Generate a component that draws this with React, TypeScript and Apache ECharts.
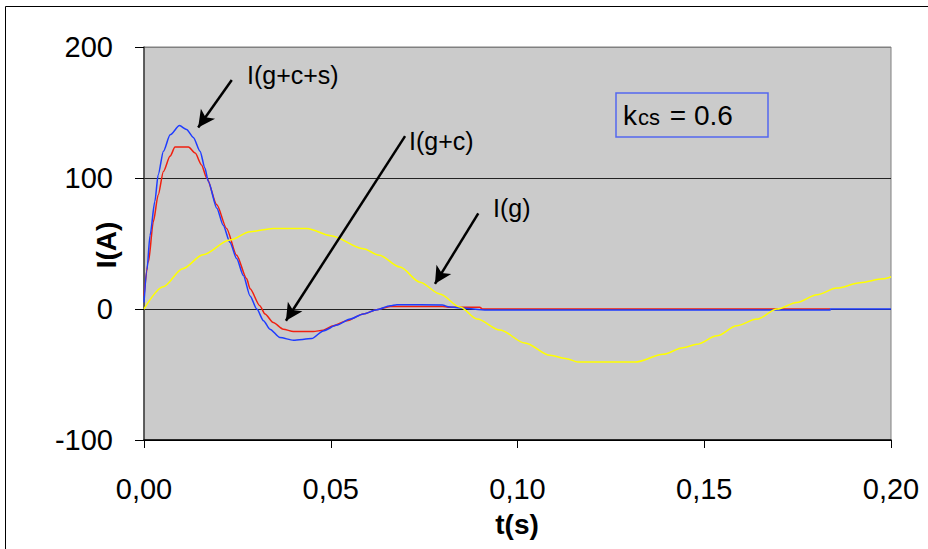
import React, { useEffect, useRef } from "react";
import * as echarts from "echarts";

// Time samples (s) and currents (A) for each case
const tGCS = [0, 0.0008, 0.0016, 0.0029, 0.0038, 0.0052, 0.007, 0.0095, 0.0114, 0.0132, 0.015, 0.0163, 0.0172, 0.0195, 0.0212, 0.023, 0.0248, 0.0266, 0.0284, 0.0302, 0.032, 0.0337, 0.0364, 0.04, 0.0449, 0.048, 0.0516, 0.0552, 0.0587, 0.0623, 0.0659, 0.0677, 0.08, 0.0814, 0.0846, 0.0918, 0.1837, 0.1838, 0.2];
const iGCS = [5, 30, 56, 82, 102.5, 120.5, 133, 140, 137, 131, 120.5, 107.7, 97.5, 77, 64, 51, 38.5, 25.6, 10, 0, -9, -15.4, -21.8, -23.8, -22.6, -16.7, -12.3, -7.7, -3.8, -0.5, 2.5, 3.3, 3, 1.8, 0.8, -0.8, -0.8, 0, 0];

const tGC = [0, 0.0012, 0.0025, 0.0038, 0.0052, 0.007, 0.0083, 0.0119, 0.0137, 0.0154, 0.0168, 0.0195, 0.0221, 0.0248, 0.0275, 0.0284, 0.031, 0.0324, 0.0346, 0.0373, 0.04, 0.0453, 0.048, 0.0507, 0.0543, 0.0587, 0.0623, 0.0659, 0.08, 0.0814, 0.0899, 0.0906, 0.1837];
const iGC = [10, 36, 66.7, 87, 105, 116.7, 123.6, 123.6, 119, 110, 100, 79.5, 61.5, 41, 23, 15.4, 2.5, -3.8, -10.3, -15.4, -17.2, -17.2, -16.2, -12.8, -9, -3.8, -0.5, 2, 2, 1.3, 1.3, 0, 0];

const tG = [0, 0.0051, 0.0104, 0.0158, 0.023, 0.0284, 0.0346, 0.0436, 0.05, 0.0587, 0.063, 0.0685, 0.0739, 0.0792, 0.0846, 0.0892, 0.0953, 0.102, 0.1087, 0.1132, 0.1162, 0.1315, 0.139, 0.1443, 0.148, 0.1534, 0.1587, 0.1641, 0.1695, 0.1748, 0.1802, 0.1855, 0.1917, 0.1979, 0.2];
const iG = [0, 17, 30.8, 41.5, 52.6, 59, 61.5, 61.5, 56, 46, 41, 32, 20.5, 11.5, 1.5, -7.7, -16, -26, -35.4, -38, -40.5, -40.5, -34.6, -29.5, -27, -20.5, -12.8, -7.7, 0, 5, 10.8, 16, 20, 23, 24.6];

// Axis ranges and ticks
const xTicks = { min: 0, max: 0.2, step: 0.05 };
const yTicks = { min: -100, max: 200, step: 100 };

// Annotation arrows: [tail t, tail I, head t, head I] and their captions
const arrowGCS = [0.0235, 174.8, 0.0145, 138.5];
const arrowGC = [0.0699, 132, 0.038, -9];
const arrowG = [0.0895, 73, 0.0779, 19.2];
const captions = ["I(g+c+s)", "I(g+c)", "I(g)"];

const FONT = 'Arial, "Liberation Sans", sans-serif';

const pairs = (t: number[], v: number[]) => t.map((x, i) => [x, v[i]]);
const arrowLine = (a: number[]) => [{ coord: [a[0], a[1]] }, { coord: [a[2], a[3]] }];

export default function App() {
  const ref = useRef<HTMLDivElement>(null);

  useEffect(() => {
    if (!ref.current) return;
    const chart = echarts.init(ref.current, null, { renderer: "svg" });

    const caption = (text: string, x: number, y: number) => ({
      type: "text",
      x,
      y,
      style: { text, font: `25px ${FONT}`, fill: "#000", verticalAlign: "middle", align: "left" },
    });

    chart.setOption({
      animation: false,
      backgroundColor: "#fff",
      grid: {
        left: 144,
        top: 47,
        right: 37,
        bottom: 109,
        show: true,
        backgroundColor: "#CBCBCB",
        borderColor: "#808080",
        borderWidth: 1,
        outerBoundsMode: "none",
      },
      xAxis: {
        type: "value",
        min: xTicks.min,
        max: xTicks.max,
        interval: xTicks.step,
        axisLine: { show: true, onZero: false, lineStyle: { color: "#000", width: 1.5 } },
        axisTick: { show: true, inside: false, length: 8, lineStyle: { color: "#000", width: 1 } },
        splitLine: { show: false },
        axisLabel: {
          margin: 34,
          fontSize: 29,
          fontFamily: FONT,
          color: "#000",
          formatter: (v: number) => v.toFixed(2).replace(".", ","),
        },
      },
      yAxis: {
        type: "value",
        min: yTicks.min,
        max: yTicks.max,
        interval: yTicks.step,
        axisLine: { show: true, lineStyle: { color: "#404040", width: 1.5 } },
        axisTick: { show: true, inside: false, length: 9, lineStyle: { color: "#000", width: 1 } },
        splitLine: {
          show: true,
          lineStyle: { color: ["#000", "#222", "#222", "#808080"], width: 1.2 },
        },
        axisLabel: { margin: 31, fontSize: 29, fontFamily: FONT, color: "#000" },
      },
      series: [
        {
          name: "I(g+c)",
          type: "line",
          data: pairs(tGC, iGC),
          showSymbol: false,
          smooth: 0.25,
          smoothMonotone: "x",
          lineStyle: { color: "#F02010", width: 1.5 },
          z: 2,
        },
        {
          name: "I(g+c+s)",
          type: "line",
          data: pairs(tGCS, iGCS),
          showSymbol: false,
          smooth: 0.25,
          smoothMonotone: "x",
          lineStyle: { color: "#1E3CFF", width: 1.5 },
          z: 3,
        },
        {
          name: "I(g)",
          type: "line",
          data: pairs(tG, iG),
          showSymbol: false,
          smooth: 0.3,
          smoothMonotone: "x",
          lineStyle: { color: "#FFFF00", width: 1.5 },
          z: 4,
          markLine: {
            silent: true,
            symbol: ["none", "arrow"],
            symbolSize: [13, 17],
            label: { show: false },
            emphasis: { disabled: true },
            lineStyle: { color: "#000", width: 2.5, type: "solid" },
            data: [arrowLine(arrowGCS), arrowLine(arrowGC), arrowLine(arrowG)],
          },
        },
      ],
      graphic: [
        {
          type: "rect",
          shape: { x: 5.5, y: 6.5, width: 1000, height: 1000 },
          style: { fill: "none", stroke: "#000", lineWidth: 1 },
          silent: true,
        },
        caption(captions[0], 247, 75),
        caption(captions[1], 409, 141),
        caption(captions[2], 493, 208),
        {
          type: "rect",
          shape: { x: 616, y: 93, width: 152, height: 44 },
          style: { fill: "none", stroke: "#5468F0", lineWidth: 1.5 },
          z: 10,
        },
        {
          type: "text",
          x: 623,
          y: 115.5,
          style: { text: "k", font: `28px ${FONT}`, fill: "#000", verticalAlign: "middle" },
          z: 10,
        },
        {
          type: "text",
          x: 638,
          y: 117.5,
          style: { text: "cs", font: `22px ${FONT}`, fill: "#000", verticalAlign: "middle" },
          z: 10,
        },
        {
          type: "text",
          x: 662,
          y: 115.5,
          style: { text: " = 0.6", font: `28px ${FONT}`, fill: "#000", verticalAlign: "middle" },
          z: 10,
        },
        {
          type: "text",
          x: 517,
          y: 524,
          style: { text: "t(s)", font: `bold 28px ${FONT}`, fill: "#000", align: "center", verticalAlign: "middle" },
        },
        {
          type: "text",
          x: 106,
          y: 245,
          rotation: Math.PI / 2,
          style: { text: "I(A)", font: `bold 28px ${FONT}`, fill: "#000", align: "center", verticalAlign: "middle" },
        },
      ],
    });

    return () => chart.dispose();
  }, []);

  return (
    <div
      ref={ref}
      style={{ position: "absolute", left: 0, top: 0, width: 928, height: 549 }}
    />
  );
}
